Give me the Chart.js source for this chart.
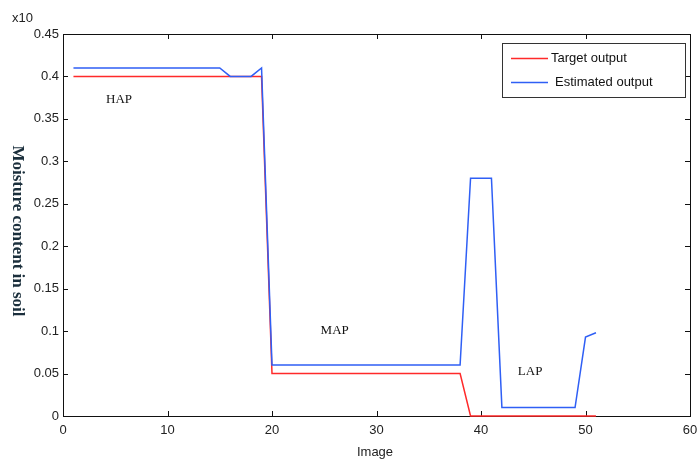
<!DOCTYPE html>
<html>
<head>
<meta charset="utf-8">
<script src="https://cdn.jsdelivr.net/npm/chart.js@4.4.0/dist/chart.umd.min.js"></script>
<style>
  html, body { margin: 0; padding: 0; background: #ffffff; }
  #wrap { width: 699px; height: 465px; position: relative; }
</style>
</head>
<body>
<div id="wrap"><canvas id="c" width="699" height="465"></canvas></div>
<script>
// ---- data ----
const imageIdx = [1,2,3,4,5,6,7,8,9,10,11,12,13,14,15,16,17,18,19,20,21,22,23,24,25,26,27,28,29,30,31,32,33,34,35,36,37,38,39,40,41,42,43,44,45,46,47,48,49,50,51];
const targetOutput = [0.40,0.40,0.40,0.40,0.40,0.40,0.40,0.40,0.40,0.40,0.40,0.40,0.40,0.40,0.40,0.40,0.40,0.40,0.40,
  0.05,0.05,0.05,0.05,0.05,0.05,0.05,0.05,0.05,0.05,0.05,0.05,0.05,0.05,0.05,0.05,0.05,0.05,0.05,
  0,0,0,0,0,0,0,0,0,0,0,0,0];
const estimatedOutput = [0.41,0.41,0.41,0.41,0.41,0.41,0.41,0.41,0.41,0.41,0.41,0.41,0.41,0.41,0.41,0.40,0.40,0.40,0.41,
  0.06,0.06,0.06,0.06,0.06,0.06,0.06,0.06,0.06,0.06,0.06,0.06,0.06,0.06,0.06,0.06,0.06,0.06,0.06,
  0.28,0.28,0.28,0.01,0.01,0.01,0.01,0.01,0.01,0.01,0.01,0.093,0.098];
const seriesNames = ['Target output', 'Estimated output'];
const xTickRange = [0, 60, 10];
const yTickRange = [0, 0.45, 0.05];
const regionLabels = ['HAP', 'MAP', 'LAP'];
const regionPos = [[5.36, 0.373], [26.0, 0.1007], [44.7, 0.052]];

const toPts = (vals) => vals.map((v, i) => ({ x: imageIdx[i], y: v }));

const SANS = "'Liberation Sans', Arial, sans-serif";
const SERIF = "'Liberation Serif', 'Times New Roman', serif";

const decor = {
  id: 'decor',
  beforeDatasetsDraw(chart) {
    const ctx = chart.ctx;
    const a = chart.chartArea;
    const xs = chart.scales.x, ys = chart.scales.y;
    ctx.save();
    // frame
    ctx.strokeStyle = '#111';
    ctx.lineWidth = 1;
    ctx.strokeRect(Math.round(a.left) + 0.5, Math.round(a.top) + 0.5, Math.round(a.right - a.left), Math.round(a.bottom - a.top));
    // inward ticks
    const tl = 5;
    ctx.beginPath();
    xs.ticks.forEach(t => {
      const px = Math.round(xs.getPixelForValue(t.value)) + 0.5;
      ctx.moveTo(px, a.bottom); ctx.lineTo(px, a.bottom - tl);
      ctx.moveTo(px, a.top); ctx.lineTo(px, a.top + tl);
    });
    ys.ticks.forEach(t => {
      const py = Math.round(ys.getPixelForValue(t.value)) + 0.5;
      ctx.moveTo(a.left, py); ctx.lineTo(a.left + tl, py);
      ctx.moveTo(a.right, py); ctx.lineTo(a.right - tl, py);
    });
    ctx.stroke();
    ctx.restore();
  },
  afterDraw(chart) {
    const ctx = chart.ctx;
    const xs = chart.scales.x, ys = chart.scales.y;
    ctx.save();
    // region annotations
    ctx.fillStyle = '#111';
    ctx.font = '13px ' + SERIF;
    ctx.textAlign = 'center';
    ctx.textBaseline = 'middle';
    regionLabels.forEach((lab, i) => {
      ctx.fillText(lab, xs.getPixelForValue(regionPos[i][0]), ys.getPixelForValue(regionPos[i][1]));
    });

    // legend
    const lx = 502, ly = 43, lw = 183, lh = 54;
    ctx.fillStyle = '#fff';
    ctx.fillRect(lx, ly, lw, lh);
    ctx.strokeStyle = '#333';
    ctx.lineWidth = 1;
    ctx.strokeRect(lx + 0.5, ly + 0.5, lw, lh);
    const ds = chart.data.datasets;
    const rows = [58.5, 82.5];
    const textX = [551, 555];
    ctx.font = '13px ' + SANS;
    ctx.textAlign = 'left';
    seriesNames.forEach((name, i) => {
      const d = ds.find(dd => dd.label === name);
      ctx.strokeStyle = d.borderColor;
      ctx.lineWidth = 1.5;
      ctx.beginPath();
      ctx.moveTo(511, rows[i]); ctx.lineTo(548, rows[i]);
      ctx.stroke();
      ctx.fillStyle = '#111';
      ctx.fillText(name, textX[i], rows[i]);
    });

    // x10 multiplier
    ctx.font = '13px ' + SANS;
    ctx.fillStyle = '#222';
    ctx.textAlign = 'left';
    ctx.fillText('x10', 12, 18);

    // x axis title
    ctx.textAlign = 'center';
    ctx.fillText('Image', 375, 452);

    // y axis title (rotated clockwise)
    ctx.save();
    ctx.translate(17, 231);
    ctx.rotate(Math.PI / 2);
    ctx.font = 'bold 17px ' + SERIF;
    ctx.fillStyle = '#1b2f3c';
    ctx.textAlign = 'center';
    ctx.textBaseline = 'middle';
    ctx.fillText('Moisture content in soil', 0, 0);
    ctx.restore();

    ctx.restore();
  }
};

new Chart(document.getElementById('c'), {
  type: 'line',
  data: {
    datasets: [
      { label: seriesNames[0], data: toPts(targetOutput), borderColor: '#ff2a2a', borderWidth: 1.5, pointRadius: 0, tension: 0, order: 2, clip: 4 },
      { label: seriesNames[1], data: toPts(estimatedOutput), borderColor: '#2f5ff5', borderWidth: 1.5, pointRadius: 0, tension: 0, order: 1, clip: 4 }
    ]
  },
  options: {
    responsive: false,
    animation: false,
    devicePixelRatio: 1,
    layout: { padding: { left: 0, top: 34, right: 9, bottom: 0 } },
    plugins: { legend: { display: false }, tooltip: { enabled: false } },
    scales: {
      x: {
        type: 'linear',
        min: xTickRange[0], max: xTickRange[1],
        grid: { display: false, drawTicks: false },
        border: { display: false },
        ticks: { stepSize: xTickRange[2], padding: 7, color: '#222', font: { family: SANS, size: 13 } },
        afterFit(s) { s.height = 49; s.paddingRight = 0; s.paddingLeft = 0; }
      },
      y: {
        min: yTickRange[0], max: yTickRange[1],
        grid: { display: false, drawTicks: false },
        border: { display: false },
        ticks: {
          stepSize: yTickRange[2], padding: 4, color: '#222', font: { family: SANS, size: 13 },
          callback: v => String(Number(v.toFixed(2)))
        },
        afterFit(s) { s.width = 63; s.paddingTop = 0; s.paddingBottom = 0; }
      }
    }
  },
  plugins: [decor]
});
</script>
</body>
</html>
